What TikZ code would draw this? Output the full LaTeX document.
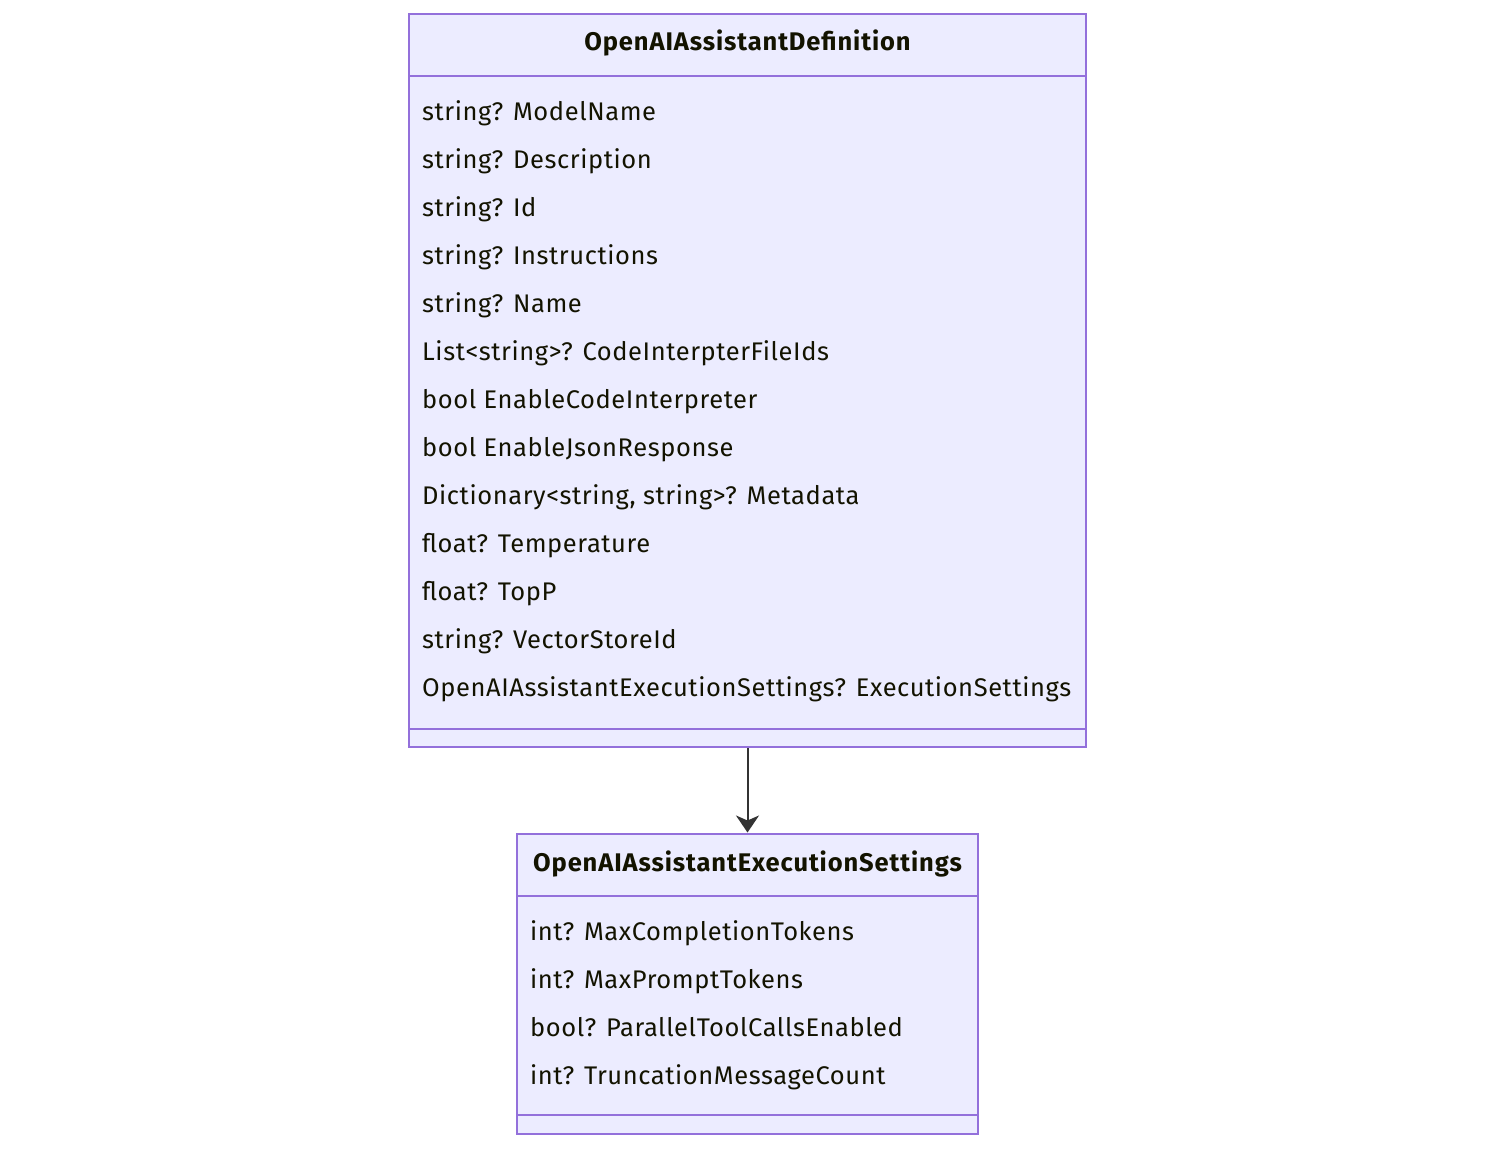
\documentclass[tikz,border=0pt]{standalone}
\usepackage{fontspec}
\setmainfont{Fira Sans}
\usetikzlibrary{arrows.meta}
\definecolor{classfill}{HTML}{ECECFF}
\definecolor{classline}{HTML}{9370DB}
\definecolor{classtext}{HTML}{131300}
\definecolor{edgeline}{HTML}{333333}
\tikzset{
  classbox/.style={draw=classline, fill=classfill, line width=2pt, inner sep=0pt},
  member/.style={anchor=base west, inner sep=0pt, text=classtext, font=\fontsize{25.5}{30}\selectfont\addfontfeatures{LetterSpace=2.3}},
  classname/.style={anchor=base, inner sep=0pt, text=classtext, font=\fontsize{25.5}{30}\selectfont\bfseries\addfontfeatures{LetterSpace=3.5}}
}
\begin{document}
\begin{tikzpicture}[x=1pt,y=-1pt]
      \useasboundingbox (0,0) rectangle (1495,1148);

      % OpenAIAssistantDefinition
      \node(defbox)[classbox, minimum width=677pt, minimum height=733pt] at (747.5,380.5) {};
      \draw[classline, line width=2pt] (409,75.5) -- (1086,75.5);
      \draw[classline, line width=2pt] (409,728.5) -- (1086,728.5);
      \node(defname)[classname] at (747.5,51) {OpenAIAssistantDefinition};

      \node(d1)[member] at (422,120) {string? ModelName};
      \node(d2)[member] at (422,168) {string? Description};
      \node(d3)[member] at (422,216) {string? Id};
      \node(d4)[member] at (422,264) {string? Instructions};
      \node(d5)[member] at (422,312) {string? Name};
      \node(d6)[member] at (422,360) {List<string>? CodeInterpterFileIds};
      \node(d7)[member] at (422,408) {bool EnableCodeInterpreter};
      \node(d8)[member] at (422,456) {bool EnableJsonResponse};
      \node(d9)[member] at (422,504) {Dictionary<string, string>? Metadata};
      \node(d10)[member] at (422,552) {float? Temperature};
      \node(d11)[member] at (422,600) {float? TopP};
      \node(d12)[member] at (422,648) {string? VectorStoreId};
      \node(d13)[member] at (422,696) {OpenAIAssistantExecutionSettings? ExecutionSettings};

      % OpenAIAssistantExecutionSettings
      \node(setbox)[classbox, minimum width=461pt, minimum height=300pt] at (747.5,983.5) {};
      \draw[classline, line width=2pt] (517,895.5) -- (978,895.5);
      \draw[classline, line width=2pt] (517,1115) -- (978,1115);
      \node(setname)[classname] at (747.5,871) {OpenAIAssistantExecutionSettings};

      \node(s1)[member] at (530,940) {int? MaxCompletionTokens};
      \node(s2)[member] at (530,988) {int? MaxPromptTokens};
      \node(s3)[member] at (530,1036) {bool? ParallelToolCallsEnabled};
      \node(s4)[member] at (530,1084) {int? TruncationMessageCount};

      \draw[edgeline, line width=2pt, -{Stealth[length=17pt, width=23pt, inset=5pt]}] (defbox.south) -- (setbox.north);
\end{tikzpicture}
\end{document}
